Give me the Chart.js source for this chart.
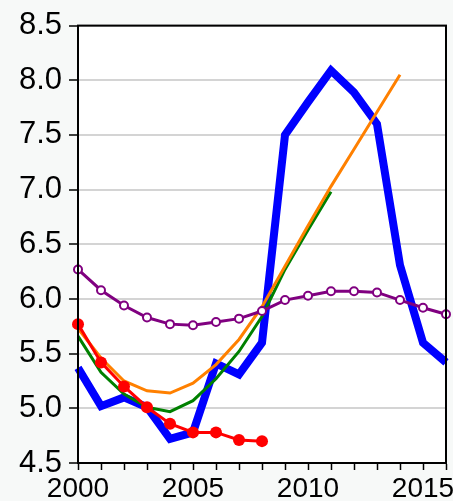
<!DOCTYPE html>
<html>
<head>
    <title>Series 2000-2016</title>
    <script src="https://cdn.jsdelivr.net/npm/chart.js@4"></script>
    <style>
        body { margin: 0; background: #f7f9f8; }
        canvas { display: block; }
    </style>
</head>
<body>
    <canvas id="chart" width="453" height="501"></canvas>
    <script>
        // years on the x axis
        const years = [2000, 2001, 2002, 2003, 2004, 2005, 2006, 2007, 2008,
                       2009, 2010, 2011, 2012, 2013, 2014, 2015, 2016];

        // series values (null = no value that year)
        const blueVals   = [5.37, 5.02, 5.10, 5.01, 4.72, 4.78, 5.41, 5.31, 5.60,
                            7.50, 7.80, 8.09, 7.89, 7.60, 6.31, 5.60, 5.42];
        const orangeVals = [5.73, 5.46, 5.25, 5.16, 5.14, 5.23, 5.40, 5.63, 5.93,
                            6.30, 6.67, 7.03, 7.37, 7.71, 8.05, null, null];
        const greenVals  = [5.66, 5.33, 5.13, 5.01, 4.97, 5.07, 5.27, 5.52, 5.84,
                            6.27, 6.63, 6.98, null, null, null, null, null];
        const purpleVals = [6.27, 6.08, 5.94, 5.83, 5.77, 5.76, 5.79, 5.82, 5.89,
                            5.99, 6.03, 6.07, 6.07, 6.06, 5.99, 5.92, 5.86];
        const redVals    = [5.77, 5.42, 5.20, 5.01, 4.86, 4.78, 4.78, 4.71, 4.70,
                            null, null, null, null, null, null, null, null];

        const yMin = 4.5, yMax = 8.5, yStep = 0.5;

        // page background, white plot area and the box around it
        const frame = {
            id: 'frame',
            beforeDraw(chart) {
                const c = chart.ctx, a = chart.chartArea;
                c.save();
                c.fillStyle = '#f7f9f8';
                c.fillRect(0, 0, chart.width, chart.height);
                c.fillStyle = '#ffffff';
                c.fillRect(a.left, a.top, a.right - a.left, a.bottom - a.top);
                c.restore();
            },
            afterDraw(chart) {
                const c = chart.ctx, a = chart.chartArea;
                c.save();
                c.strokeStyle = '#000';
                c.lineWidth = 2;
                c.strokeRect(a.left, a.top, a.right - a.left, a.bottom - a.top);
                c.restore();
            }
        };

        const ctx = document.getElementById('chart').getContext('2d');
        new Chart(ctx, {
            type: 'line',
            data: {
                labels: years,
                // first dataset is painted last (on top)
                datasets: [{
                    data: redVals,
                    borderColor: '#ff0000',
                    backgroundColor: '#ff0000',
                    borderWidth: 3,
                    pointRadius: 6,
                    pointBorderWidth: 0
                },
                {
                    data: purpleVals,
                    borderColor: '#800080',
                    backgroundColor: '#ffffff',
                    borderWidth: 3,
                    pointRadius: 4,
                    pointBorderWidth: 2
                },
                {
                    data: orangeVals,
                    borderColor: '#ff8000',
                    borderWidth: 3,
                    pointRadius: 0
                },
                {
                    data: greenVals,
                    borderColor: '#008000',
                    borderWidth: 3,
                    pointRadius: 0
                },
                {
                    data: blueVals,
                    borderColor: '#0000ff',
                    borderWidth: 8,
                    pointRadius: 0,
                    borderJoinStyle: 'miter'
                }]
            },
            options: {
                responsive: false,
                animation: false,
                layout: { autoPadding: false, padding: { top: 22, right: 7, left: 0, bottom: 0 } },
                plugins: { legend: { display: false }, tooltip: { enabled: false } },
                elements: { line: { tension: 0 } },
                scales: {
                    x: {
                        type: 'category',
                        offset: false,
                        border: { color: '#000', width: 2 },
                        grid: { drawOnChartArea: false, tickLength: 7, tickColor: '#000', tickWidth: 1.5 },
                        ticks: {
                            autoSkip: false,
                            maxRotation: 0,
                            padding: 2,
                            color: '#000',
                            font: { family: 'Liberation Sans, Arial', size: 28 },
                            callback: function (value) {
                                const yr = years[value];
                                return yr % 5 === 0 ? String(yr) : '';
                            }
                        },
                        afterFit: function (scale) { scale.height = 38; }
                    },
                    y: {
                        min: yMin,
                        max: yMax,
                        border: { color: '#000', width: 2 },
                        grid: {
                            color: '#d4d4d4',
                            lineWidth: 2,
                            tickLength: 9,
                            tickColor: '#000',
                            tickWidth: 1.5
                        },
                        ticks: {
                            stepSize: yStep,
                            padding: 7,
                            color: '#000',
                            font: { family: 'Liberation Sans, Arial', size: 31 },
                            callback: function (value) { return value.toFixed(1); }
                        },
                        afterFit: function (scale) { scale.width = 78; }
                    }
                }
            },
            plugins: [frame]
        });
    </script>
</body>
</html>
